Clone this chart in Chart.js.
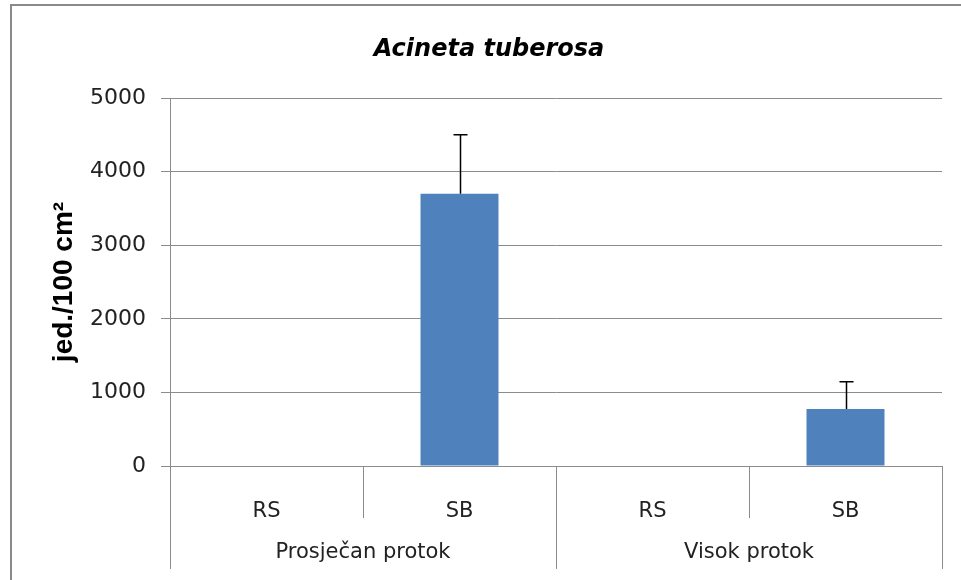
<!DOCTYPE html>
<html lang="hr">
<head>
<meta charset="UTF-8">
<title>Acineta tuberosa</title>
<script src="https://cdn.jsdelivr.net/npm/chart.js"></script>
<style>
  html, body { margin: 0; padding: 0; background: #ffffff; overflow: hidden; }
  #wrap { width: 961px; height: 580px; position: relative; }
</style>
</head>
<body>
<div id="wrap"><canvas id="chart" width="961" height="580"></canvas></div>
<script>
// podaci (očitano sa slike)
const categories = ['RS', 'SB', 'RS', 'SB'];
const groups = ['Prosječan protok', 'Visok protok'];
const groupSize = 2;
const values = [0, 3700, 0, 775];
const errors = [0, 800, 0, 370];
const yTicks = [0, 1000, 2000, 3000, 4000, 5000];

const lineColor = '#8c8c8c';
const textColor = '#222222';
const baseFont = 'DejaVu Sans';

// okvir, razdjelnici kategorija, nazivi grupa i error barovi
const excelExtras = {
  id: 'excelExtras',
  beforeDraw(chart) {
    const ctx = chart.ctx;
    ctx.save();
    ctx.strokeStyle = '#8a8a8a';
    ctx.lineWidth = 2;
    ctx.strokeRect(11, 5, 1000, 700);
    ctx.restore();
  },
  afterDraw(chart) {
    const ctx = chart.ctx;
    const x = chart.scales.x;
    const area = chart.chartArea;
    const half = (x.getPixelForValue(1) - x.getPixelForValue(0)) / 2;
    ctx.save();
    ctx.strokeStyle = lineColor;
    ctx.lineWidth = 1;
    // granice kategorija
    for (let i = 0; i <= categories.length; i++) {
      const px = Math.round(x.getPixelForValue(i) - half) + 0.5;
      const isGroupEdge = i % groupSize === 0;
      ctx.beginPath();
      ctx.moveTo(px, area.bottom);
      ctx.lineTo(px, isGroupEdge ? area.bottom + 103 : area.bottom + 52);
      ctx.stroke();
    }
    // nazivi grupa
    ctx.fillStyle = textColor;
    ctx.font = '21px "' + baseFont + '"';
    ctx.textAlign = 'center';
    ctx.textBaseline = 'middle';
    groups.forEach((g, gi) => {
      const a = x.getPixelForValue(gi * groupSize) - half;
      const b = x.getPixelForValue(gi * groupSize + groupSize - 1) + half;
      ctx.fillText(g, (a + b) / 2, area.bottom + 87);
    });
    ctx.restore();
  },
  afterDatasetsDraw(chart) {
    const ctx = chart.ctx;
    const y = chart.scales.y;
    const meta = chart.getDatasetMeta(0);
    ctx.save();
    ctx.strokeStyle = '#000000';
    ctx.lineWidth = 1.5;
    meta.data.forEach((bar, i) => {
      if (!errors[i]) return;
      const px = Math.round(bar.x) + 0.5;
      const top = y.getPixelForValue(values[i] + errors[i]);
      const base = y.getPixelForValue(values[i]);
      ctx.beginPath();
      ctx.moveTo(px, base);
      ctx.lineTo(px, top);
      ctx.moveTo(px - 7, top);
      ctx.lineTo(px + 7, top);
      ctx.stroke();
    });
    ctx.restore();
  }
};

new Chart(document.getElementById('chart'), {
  type: 'bar',
  data: {
    labels: categories,
    datasets: [{
      data: values,
      backgroundColor: '#4f81bd',
      borderColor: '#4f81bd',
      borderWidth: 0,
      barPercentage: 0.404,
      categoryPercentage: 1.0
    }]
  },
  options: {
    responsive: false,
    animation: false,
    devicePixelRatio: 1,
    layout: { padding: { left: 36, right: 19, top: 10, bottom: 0 } },
    plugins: {
      legend: { display: false },
      tooltip: { enabled: false },
      title: {
        display: true,
        text: 'Acineta tuberosa',
        color: '#000000',
        font: { family: baseFont, size: 24, weight: 'bold', style: 'italic' },
        padding: { top: 25, bottom: 34.2 }
      }
    },
    scales: {
      x: {
        grid: { display: false },
        border: { display: true, color: lineColor, width: 1 },
        ticks: {
          color: textColor,
          font: { family: baseFont, size: 21 },
          padding: 25,
          maxRotation: 0
        },
        afterFit(scale) { scale.height = 114; }
      },
      y: {
        min: 0,
        max: 5000,
        afterBuildTicks(scale) { scale.ticks = yTicks.map(v => ({ value: v })); },
        grid: { color: lineColor, lineWidth: 1, tickLength: 9 },
        border: { display: true, color: lineColor, width: 1 },
        ticks: {
          color: textColor,
          font: { family: baseFont, size: 22 },
          padding: 15,
          callback: v => String(v)
        },
        title: {
          display: true,
          text: 'jed./100 cm²',
          color: '#000000',
          font: { family: 'Liberation Sans', size: 28, weight: 'bold' },
          padding: { top: 11, bottom: 0 }
        },
        afterFit(scale) { scale.width = 134; }
      }
    }
  },
  plugins: [excelExtras]
});
</script>
</body>
</html>
